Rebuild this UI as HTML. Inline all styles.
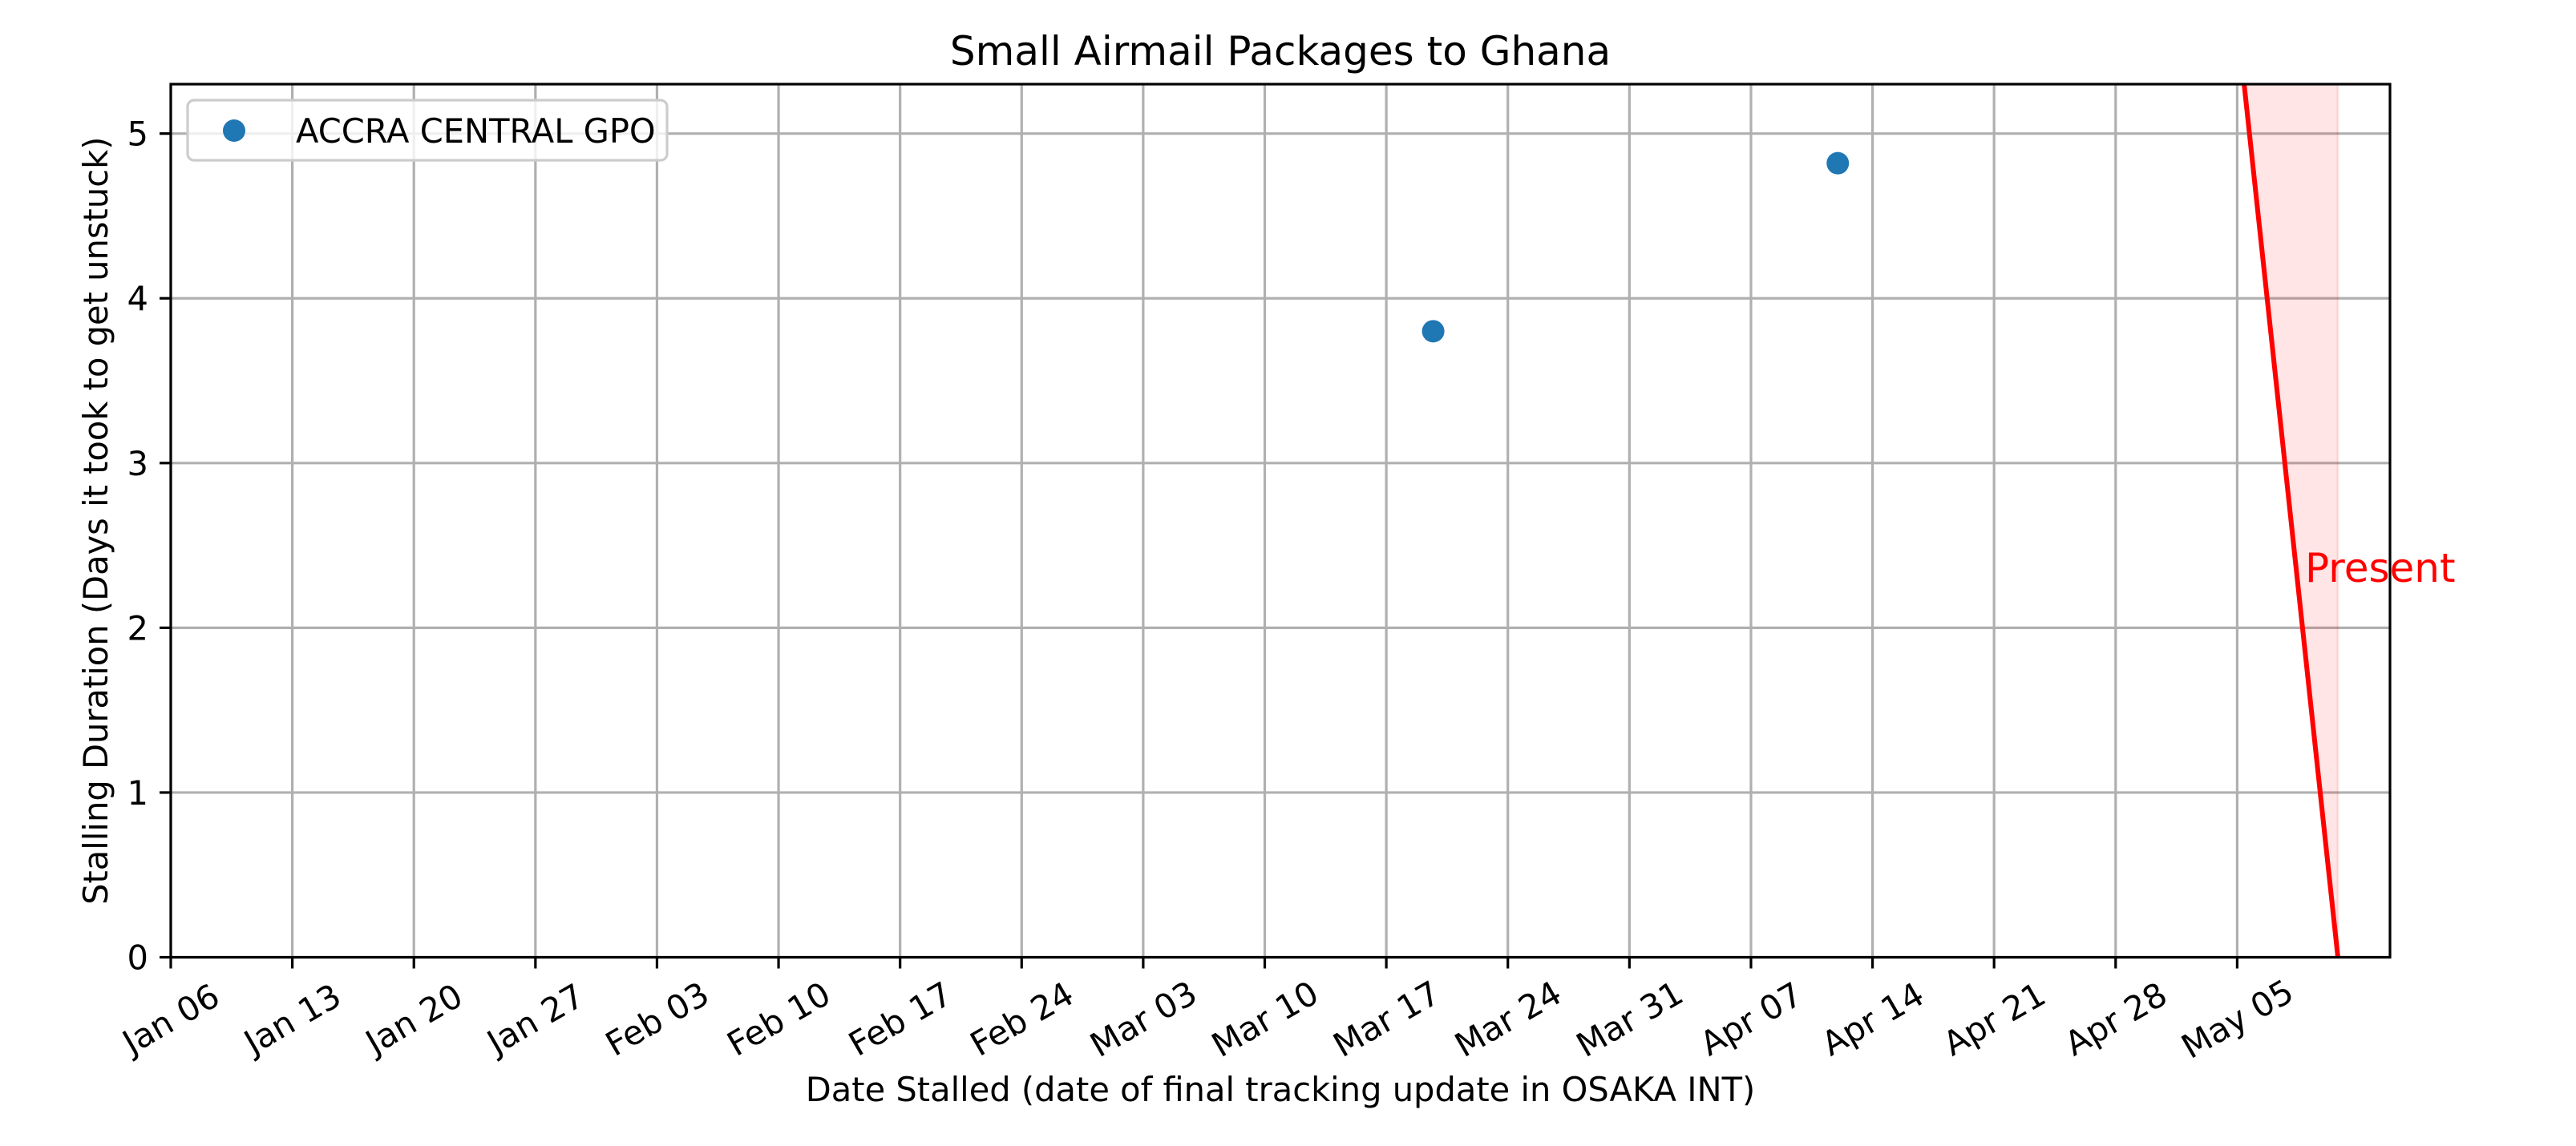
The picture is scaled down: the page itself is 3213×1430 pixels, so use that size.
<!DOCTYPE html>
<html><head><meta charset="utf-8"><style>
html,body{margin:0;padding:0;background:#fff;}
svg{display:block;font-family:"DejaVu Sans","Liberation Sans",sans-serif;}
</style></head><body>
<svg id="chart" width="3213" height="1430" viewBox="0 0 3213 1430" xmlns="http://www.w3.org/2000/svg">
<rect width="3213" height="1430" fill="#fff"/>
<g id="plot"></g>
</svg>
<script>
const tickDays = [0,7,14,21,28,35,42,49,56,63,70,77,84,91,98,105,112,119];
const tickLabels = ["Jan 06","Jan 13","Jan 20","Jan 27","Feb 03","Feb 10","Feb 17","Feb 24","Mar 03","Mar 10","Mar 17","Mar 24","Mar 31","Apr 07","Apr 14","Apr 21","Apr 28","May 05"];
const yTicks = [0,1,2,3,4,5];
const pointDays = [72.7, 96.0];
const pointValues = [3.80, 4.82];
const presentLineDays = [124.8, 119.4];
const presentLineValues = [0, 5.3];
const xDomain = [0, 127.8];
const yDomain = [0, 5.3];

const L=213, R=2981, T=105, B=1194.5;
const FS=41.6, FT=50;
const sx = d => L + (d - xDomain[0])/(xDomain[1]-xDomain[0])*(R-L);
const sy = v => B - (v - yDomain[0])/(yDomain[1]-yDomain[0])*(B-T);
const NS="http://www.w3.org/2000/svg";
const g=document.getElementById('plot');
function mk(tag,attrs,parent){const e=document.createElementNS(NS,tag);for(const k in attrs)e.setAttribute(k,attrs[k]);(parent||g).appendChild(e);return e;}

yTicks.forEach((v,i)=>{
  const y=sy(v);
  const ln=mk('line',{x1:L,x2:R,y1:y,y2:y,stroke:'#b0b0b0','stroke-width':3.2});
  
  
});
tickDays.forEach((d,i)=>{
  const x=sx(d);
  const ln=mk('line',{x1:x,x2:x,y1:T,y2:B,stroke:'#b0b0b0','stroke-width':3.2});
  
  
});

const shadeRight = sx(presentLineDays[0]);
const p0x=sx(presentLineDays[0]), p0y=sy(presentLineValues[0]);
const p1x=sx(presentLineDays[1]), p1y=sy(presentLineValues[1]);
const shade=mk('polygon',{points:`${p1x},${p1y} ${shadeRight},${sy(yDomain[1])} ${shadeRight},${p0y} ${p0x},${p0y}`,fill:'#ff0000','fill-opacity':0.1,stroke:'#ff0000','stroke-opacity':0.1,'stroke-width':3});


const pl=mk('line',{x1:p0x,y1:p0y,x2:p1x,y2:p1y,stroke:'#ff0000','stroke-width':6});



pointDays.forEach((d,i)=>{
  const c=mk('circle',{cx:sx(d),cy:sy(pointValues[i]),r:14,fill:'#1f77b4'});
  
  
});

const sp=mk('rect',{x:L,y:T,width:R-L,height:B-T,fill:'none',stroke:'#000','stroke-width':3.2});



yTicks.forEach((v,i)=>{
  const y=sy(v);
  const t=mk('line',{x1:L-14,x2:L,y1:y,y2:y,stroke:'#000','stroke-width':3.2});
  
  
  const tx=mk('text',{x:L-28,y:y+15,'font-size':FS,'text-anchor':'end',fill:'#000'});
  tx.textContent=String(v);
  
  
});
tickDays.forEach((d,i)=>{
  const x=sx(d);
  const t=mk('line',{x1:x,x2:x,y1:B,y2:B+14,stroke:'#000','stroke-width':3.2});
  
  
  const tx=mk('text',{x:0,y:0,'font-size':FS,'text-anchor':'middle',fill:'#000',transform:`translate(${x},${1271}) rotate(-30) translate(0,15)`});
  tx.textContent=tickLabels[i];
  
  
});

const pt=mk('text',{x:2875,y:726,'font-size':FT,fill:'#ff0000'});
pt.textContent='Present';



const ti=mk('text',{x:(L+R)/2,y:81,'font-size':FT,'text-anchor':'middle',fill:'#000'});
ti.textContent='Small Airmail Packages to Ghana';


const xl=mk('text',{x:(L+R)/2,y:1374,'font-size':FS,'text-anchor':'middle',fill:'#000'});
xl.textContent='Date Stalled (date of final tracking update in OSAKA INT)';


const yl=mk('text',{x:0,y:0,'font-size':FS,'text-anchor':'middle',fill:'#000',transform:`translate(134,${(T+B)/2}) rotate(-90)`});
yl.textContent='Stalling Duration (Days it took to get unstuck)';



const lg=mk('g',{});


const lb=mk('rect',{x:234,y:125,width:598,height:75,rx:8,fill:'#fff','fill-opacity':0.8,stroke:'#cccccc','stroke-width':3.2},lg);


const lm=mk('circle',{cx:292,cy:163,r:14,fill:'#1f77b4'},lg);


const lt=mk('text',{x:369,y:178,'font-size':FS,fill:'#000'},lg);
lt.textContent='ACCRA CENTRAL GPO';


</script>
</body></html>
